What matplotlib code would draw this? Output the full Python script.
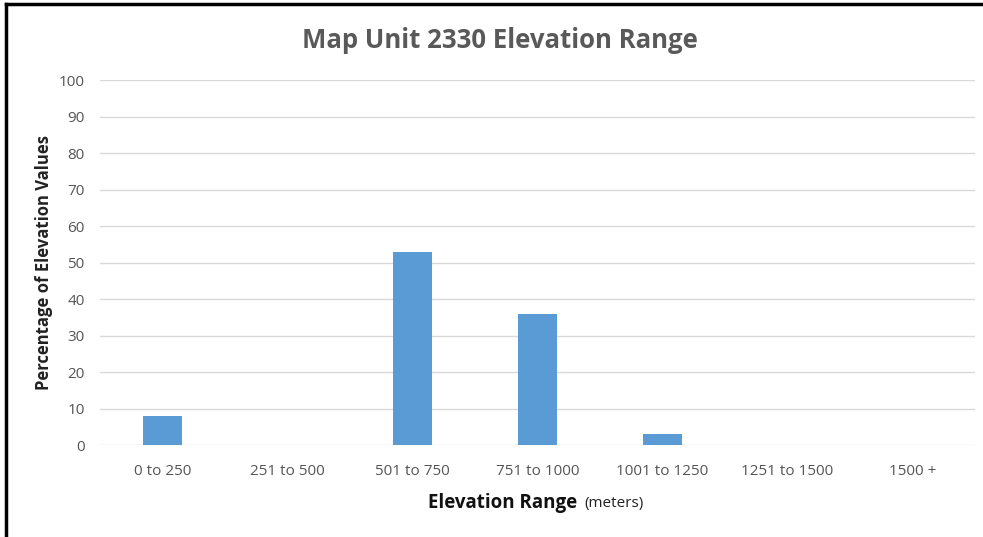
import matplotlib.pyplot as plt
from matplotlib.lines import Line2D

# data
categories = ['0 to 250', '251 to 500', '501 to 750', '751 to 1000',
              '1001 to 1250', '1251 to 1500', '1500 +']
percentages = [8, 0, 53, 36, 3, 0, 0]
y_ticks = list(range(0, 101, 10))

plt.rcParams['font.family'] = ['Open Sans', 'DejaVu Sans']

fig = plt.figure(figsize=(9.83, 5.37), dpi=100)
ax = fig.add_axes([0.1017, 0.1713, 0.8903, 0.6797])

ax.bar(range(len(categories)), percentages, width=0.31, color='#5b9bd5', zorder=3)

ax.set_xlim(-0.5, len(categories) - 0.5)
ax.set_ylim(0, 100)
ax.set_yticks(y_ticks)
ax.set_xticks(range(len(categories)))
ax.set_xticklabels(categories)
ax.tick_params(axis='both', length=0, labelsize=11, colors='#555555')
ax.tick_params(axis='x', pad=14)
ax.tick_params(axis='y', pad=11)

ax.grid(axis='y', color='#d9d9d9', linewidth=1, zorder=0)
for s in ax.spines.values():
    s.set_visible(False)

ax.set_ylabel('Percentage of Elevation Values', fontsize=12, fontweight='bold',
              color='#222222', labelpad=4)

fig.text(0.509, 0.925, 'Map Unit 2330 Elevation Range', ha='center', va='center',
         fontsize=18.5, fontweight='bold', color='#595959')

# x axis title: bold part + normal "(meters)"
fig.text(0.587, 0.063, 'Elevation Range', ha='right', va='center',
         fontsize=13.5, fontweight='bold', color='#111111')
fig.text(0.594, 0.063, '(meters)', ha='left', va='center',
         fontsize=11, color='#222222')

# black frame lines on the left and top of the image
fig.add_artist(Line2D([0.006, 0.006], [0, 0.992], transform=fig.transFigure,
                      color='black', linewidth=2.5))
fig.add_artist(Line2D([0.006, 1.0], [0.992, 0.992], transform=fig.transFigure,
                      color='black', linewidth=2.5))

fig.savefig('out.png', dpi=100)
